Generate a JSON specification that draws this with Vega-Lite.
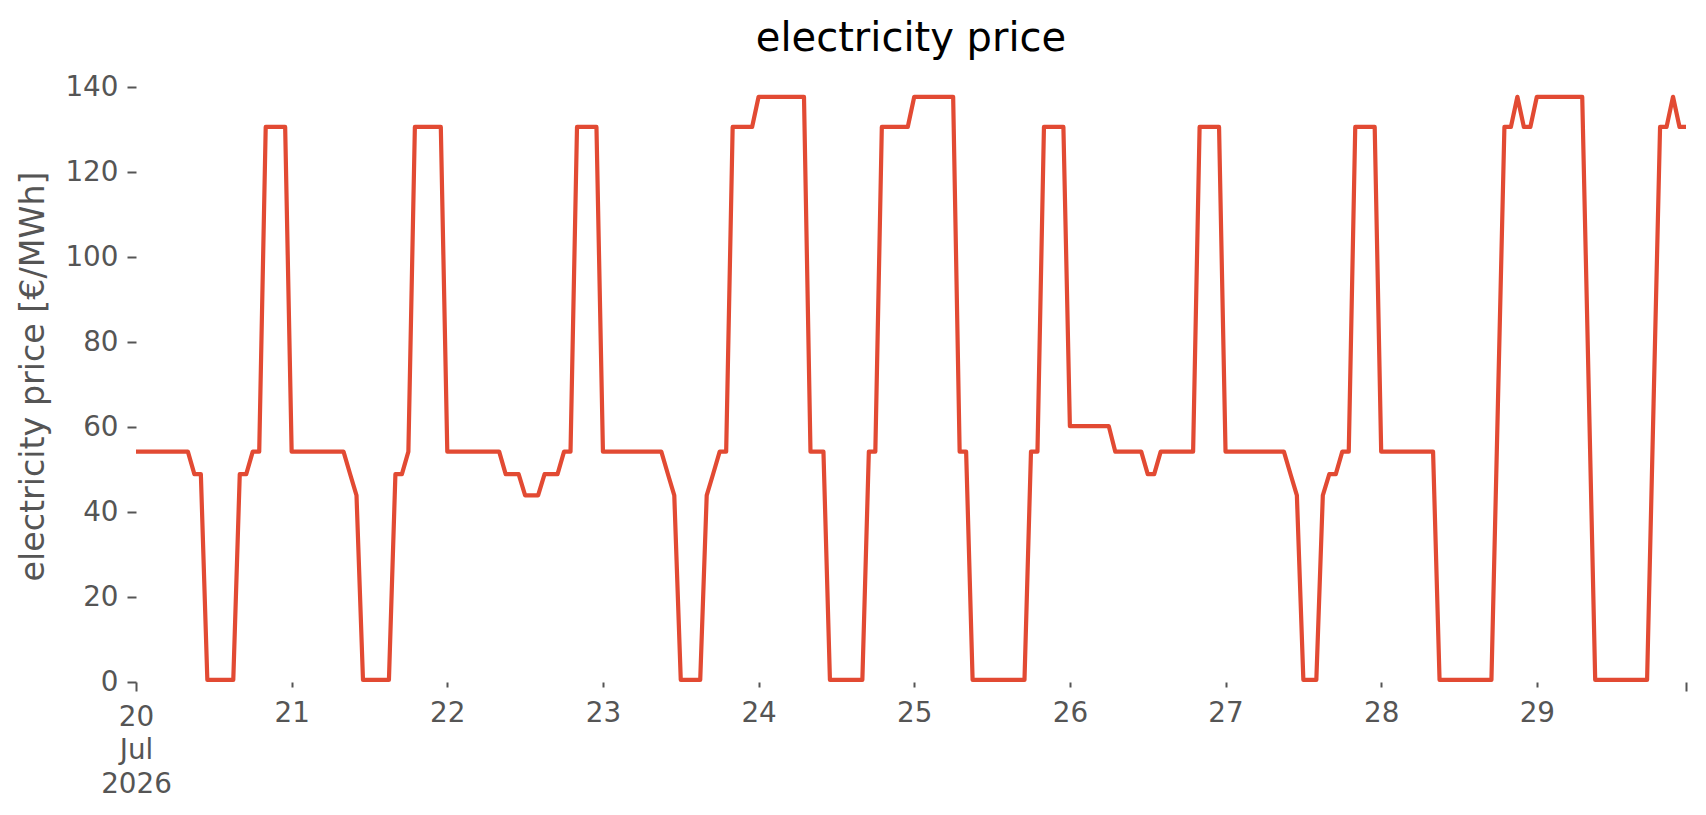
{
  "$schema": "https://vega.github.io/schema/vega-lite/v6.json",
  "autosize": {"type": "none"},
  "padding": {"left": 136, "top": 70, "right": 20, "bottom": 133},
  "width": 1550,
  "height": 612,
  "background": "white",
  "title": {"text": "electricity price", "font": "DejaVu Sans", "fontSize": 40, "fontWeight": "normal", "color": "#000000", "anchor": "middle", "offset": 11},
  "data": {"values": [
    {"t":"2026-07-20T00:00","p":54.2},{"t":"2026-07-20T01:00","p":54.2},{"t":"2026-07-20T02:00","p":54.2},{"t":"2026-07-20T03:00","p":54.2},{"t":"2026-07-20T04:00","p":54.2},{"t":"2026-07-20T05:00","p":54.2},{"t":"2026-07-20T06:00","p":54.2},{"t":"2026-07-20T07:00","p":54.2},{"t":"2026-07-20T08:00","p":54.2},{"t":"2026-07-20T09:00","p":48.9},{"t":"2026-07-20T10:00","p":48.9},{"t":"2026-07-20T11:00","p":0.5},{"t":"2026-07-20T12:00","p":0.5},{"t":"2026-07-20T13:00","p":0.5},{"t":"2026-07-20T14:00","p":0.5},{"t":"2026-07-20T15:00","p":0.5},{"t":"2026-07-20T16:00","p":48.9},{"t":"2026-07-20T17:00","p":48.9},{"t":"2026-07-20T18:00","p":54.2},{"t":"2026-07-20T19:00","p":54.2},{"t":"2026-07-20T20:00","p":130.6},{"t":"2026-07-20T21:00","p":130.6},{"t":"2026-07-20T22:00","p":130.6},{"t":"2026-07-20T23:00","p":130.6},
    {"t":"2026-07-21T00:00","p":54.2},{"t":"2026-07-21T01:00","p":54.2},{"t":"2026-07-21T02:00","p":54.2},{"t":"2026-07-21T03:00","p":54.2},{"t":"2026-07-21T04:00","p":54.2},{"t":"2026-07-21T05:00","p":54.2},{"t":"2026-07-21T06:00","p":54.2},{"t":"2026-07-21T07:00","p":54.2},{"t":"2026-07-21T08:00","p":54.2},{"t":"2026-07-21T09:00","p":49.0},{"t":"2026-07-21T10:00","p":43.9},{"t":"2026-07-21T11:00","p":0.5},{"t":"2026-07-21T12:00","p":0.5},{"t":"2026-07-21T13:00","p":0.5},{"t":"2026-07-21T14:00","p":0.5},{"t":"2026-07-21T15:00","p":0.5},{"t":"2026-07-21T16:00","p":48.9},{"t":"2026-07-21T17:00","p":48.9},{"t":"2026-07-21T18:00","p":54.2},{"t":"2026-07-21T19:00","p":130.6},{"t":"2026-07-21T20:00","p":130.6},{"t":"2026-07-21T21:00","p":130.6},{"t":"2026-07-21T22:00","p":130.6},{"t":"2026-07-21T23:00","p":130.6},
    {"t":"2026-07-22T00:00","p":54.2},{"t":"2026-07-22T01:00","p":54.2},{"t":"2026-07-22T02:00","p":54.2},{"t":"2026-07-22T03:00","p":54.2},{"t":"2026-07-22T04:00","p":54.2},{"t":"2026-07-22T05:00","p":54.2},{"t":"2026-07-22T06:00","p":54.2},{"t":"2026-07-22T07:00","p":54.2},{"t":"2026-07-22T08:00","p":54.2},{"t":"2026-07-22T09:00","p":48.9},{"t":"2026-07-22T10:00","p":48.9},{"t":"2026-07-22T11:00","p":48.9},{"t":"2026-07-22T12:00","p":43.9},{"t":"2026-07-22T13:00","p":43.9},{"t":"2026-07-22T14:00","p":43.9},{"t":"2026-07-22T15:00","p":48.9},{"t":"2026-07-22T16:00","p":48.9},{"t":"2026-07-22T17:00","p":48.9},{"t":"2026-07-22T18:00","p":54.2},{"t":"2026-07-22T19:00","p":54.2},{"t":"2026-07-22T20:00","p":130.6},{"t":"2026-07-22T21:00","p":130.6},{"t":"2026-07-22T22:00","p":130.6},{"t":"2026-07-22T23:00","p":130.6},
    {"t":"2026-07-23T00:00","p":54.2},{"t":"2026-07-23T01:00","p":54.2},{"t":"2026-07-23T02:00","p":54.2},{"t":"2026-07-23T03:00","p":54.2},{"t":"2026-07-23T04:00","p":54.2},{"t":"2026-07-23T05:00","p":54.2},{"t":"2026-07-23T06:00","p":54.2},{"t":"2026-07-23T07:00","p":54.2},{"t":"2026-07-23T08:00","p":54.2},{"t":"2026-07-23T09:00","p":54.2},{"t":"2026-07-23T10:00","p":49.0},{"t":"2026-07-23T11:00","p":43.9},{"t":"2026-07-23T12:00","p":0.5},{"t":"2026-07-23T13:00","p":0.5},{"t":"2026-07-23T14:00","p":0.5},{"t":"2026-07-23T15:00","p":0.5},{"t":"2026-07-23T16:00","p":43.9},{"t":"2026-07-23T17:00","p":49.0},{"t":"2026-07-23T18:00","p":54.2},{"t":"2026-07-23T19:00","p":54.2},{"t":"2026-07-23T20:00","p":130.6},{"t":"2026-07-23T21:00","p":130.6},{"t":"2026-07-23T22:00","p":130.6},{"t":"2026-07-23T23:00","p":130.6},
    {"t":"2026-07-24T00:00","p":137.7},{"t":"2026-07-24T01:00","p":137.7},{"t":"2026-07-24T02:00","p":137.7},{"t":"2026-07-24T03:00","p":137.7},{"t":"2026-07-24T04:00","p":137.7},{"t":"2026-07-24T05:00","p":137.7},{"t":"2026-07-24T06:00","p":137.7},{"t":"2026-07-24T07:00","p":137.7},{"t":"2026-07-24T08:00","p":54.2},{"t":"2026-07-24T09:00","p":54.2},{"t":"2026-07-24T10:00","p":54.2},{"t":"2026-07-24T11:00","p":0.5},{"t":"2026-07-24T12:00","p":0.5},{"t":"2026-07-24T13:00","p":0.5},{"t":"2026-07-24T14:00","p":0.5},{"t":"2026-07-24T15:00","p":0.5},{"t":"2026-07-24T16:00","p":0.5},{"t":"2026-07-24T17:00","p":54.2},{"t":"2026-07-24T18:00","p":54.2},{"t":"2026-07-24T19:00","p":130.6},{"t":"2026-07-24T20:00","p":130.6},{"t":"2026-07-24T21:00","p":130.6},{"t":"2026-07-24T22:00","p":130.6},{"t":"2026-07-24T23:00","p":130.6},
    {"t":"2026-07-25T00:00","p":137.7},{"t":"2026-07-25T01:00","p":137.7},{"t":"2026-07-25T02:00","p":137.7},{"t":"2026-07-25T03:00","p":137.7},{"t":"2026-07-25T04:00","p":137.7},{"t":"2026-07-25T05:00","p":137.7},{"t":"2026-07-25T06:00","p":137.7},{"t":"2026-07-25T07:00","p":54.2},{"t":"2026-07-25T08:00","p":54.2},{"t":"2026-07-25T09:00","p":0.5},{"t":"2026-07-25T10:00","p":0.5},{"t":"2026-07-25T11:00","p":0.5},{"t":"2026-07-25T12:00","p":0.5},{"t":"2026-07-25T13:00","p":0.5},{"t":"2026-07-25T14:00","p":0.5},{"t":"2026-07-25T15:00","p":0.5},{"t":"2026-07-25T16:00","p":0.5},{"t":"2026-07-25T17:00","p":0.5},{"t":"2026-07-25T18:00","p":54.2},{"t":"2026-07-25T19:00","p":54.2},{"t":"2026-07-25T20:00","p":130.6},{"t":"2026-07-25T21:00","p":130.6},{"t":"2026-07-25T22:00","p":130.6},{"t":"2026-07-25T23:00","p":130.6},
    {"t":"2026-07-26T00:00","p":60.2},{"t":"2026-07-26T01:00","p":60.2},{"t":"2026-07-26T02:00","p":60.2},{"t":"2026-07-26T03:00","p":60.2},{"t":"2026-07-26T04:00","p":60.2},{"t":"2026-07-26T05:00","p":60.2},{"t":"2026-07-26T06:00","p":60.2},{"t":"2026-07-26T07:00","p":54.2},{"t":"2026-07-26T08:00","p":54.2},{"t":"2026-07-26T09:00","p":54.2},{"t":"2026-07-26T10:00","p":54.2},{"t":"2026-07-26T11:00","p":54.2},{"t":"2026-07-26T12:00","p":48.9},{"t":"2026-07-26T13:00","p":48.9},{"t":"2026-07-26T14:00","p":54.2},{"t":"2026-07-26T15:00","p":54.2},{"t":"2026-07-26T16:00","p":54.2},{"t":"2026-07-26T17:00","p":54.2},{"t":"2026-07-26T18:00","p":54.2},{"t":"2026-07-26T19:00","p":54.2},{"t":"2026-07-26T20:00","p":130.6},{"t":"2026-07-26T21:00","p":130.6},{"t":"2026-07-26T22:00","p":130.6},{"t":"2026-07-26T23:00","p":130.6},
    {"t":"2026-07-27T00:00","p":54.2},{"t":"2026-07-27T01:00","p":54.2},{"t":"2026-07-27T02:00","p":54.2},{"t":"2026-07-27T03:00","p":54.2},{"t":"2026-07-27T04:00","p":54.2},{"t":"2026-07-27T05:00","p":54.2},{"t":"2026-07-27T06:00","p":54.2},{"t":"2026-07-27T07:00","p":54.2},{"t":"2026-07-27T08:00","p":54.2},{"t":"2026-07-27T09:00","p":54.2},{"t":"2026-07-27T10:00","p":49.0},{"t":"2026-07-27T11:00","p":43.9},{"t":"2026-07-27T12:00","p":0.5},{"t":"2026-07-27T13:00","p":0.5},{"t":"2026-07-27T14:00","p":0.5},{"t":"2026-07-27T15:00","p":43.9},{"t":"2026-07-27T16:00","p":48.9},{"t":"2026-07-27T17:00","p":48.9},{"t":"2026-07-27T18:00","p":54.2},{"t":"2026-07-27T19:00","p":54.2},{"t":"2026-07-27T20:00","p":130.6},{"t":"2026-07-27T21:00","p":130.6},{"t":"2026-07-27T22:00","p":130.6},{"t":"2026-07-27T23:00","p":130.6},
    {"t":"2026-07-28T00:00","p":54.2},{"t":"2026-07-28T01:00","p":54.2},{"t":"2026-07-28T02:00","p":54.2},{"t":"2026-07-28T03:00","p":54.2},{"t":"2026-07-28T04:00","p":54.2},{"t":"2026-07-28T05:00","p":54.2},{"t":"2026-07-28T06:00","p":54.2},{"t":"2026-07-28T07:00","p":54.2},{"t":"2026-07-28T08:00","p":54.2},{"t":"2026-07-28T09:00","p":0.5},{"t":"2026-07-28T10:00","p":0.5},{"t":"2026-07-28T11:00","p":0.5},{"t":"2026-07-28T12:00","p":0.5},{"t":"2026-07-28T13:00","p":0.5},{"t":"2026-07-28T14:00","p":0.5},{"t":"2026-07-28T15:00","p":0.5},{"t":"2026-07-28T16:00","p":0.5},{"t":"2026-07-28T17:00","p":0.5},{"t":"2026-07-28T18:00","p":65.5},{"t":"2026-07-28T19:00","p":130.6},{"t":"2026-07-28T20:00","p":130.6},{"t":"2026-07-28T21:00","p":137.7},{"t":"2026-07-28T22:00","p":130.6},{"t":"2026-07-28T23:00","p":130.6},
    {"t":"2026-07-29T00:00","p":137.7},{"t":"2026-07-29T01:00","p":137.7},{"t":"2026-07-29T02:00","p":137.7},{"t":"2026-07-29T03:00","p":137.7},{"t":"2026-07-29T04:00","p":137.7},{"t":"2026-07-29T05:00","p":137.7},{"t":"2026-07-29T06:00","p":137.7},{"t":"2026-07-29T07:00","p":137.7},{"t":"2026-07-29T08:00","p":69.1},{"t":"2026-07-29T09:00","p":0.5},{"t":"2026-07-29T10:00","p":0.5},{"t":"2026-07-29T11:00","p":0.5},{"t":"2026-07-29T12:00","p":0.5},{"t":"2026-07-29T13:00","p":0.5},{"t":"2026-07-29T14:00","p":0.5},{"t":"2026-07-29T15:00","p":0.5},{"t":"2026-07-29T16:00","p":0.5},{"t":"2026-07-29T17:00","p":0.5},{"t":"2026-07-29T18:00","p":65.5},{"t":"2026-07-29T19:00","p":130.6},{"t":"2026-07-29T20:00","p":130.6},{"t":"2026-07-29T21:00","p":137.7},{"t":"2026-07-29T22:00","p":130.6},{"t":"2026-07-29T23:00","p":130.6}
  ]},
  "mark": {"type": "line", "color": "#E24A33", "strokeWidth": 4.2, "strokeJoin": "round", "clip": false},
  "encoding": {
    "x": {
      "field": "t",
      "type": "temporal",
      "scale": {"domain": [{"year": 2026, "month": 7, "date": 20, "hours": 0}, {"year": 2026, "month": 7, "date": 29, "hours": 23}], "nice": false},
      "axis": {
        "title": null,
        "grid": false,
        "domain": false,
        "values": [
          {"year": 2026, "month": 7, "date": 20}, {"year": 2026, "month": 7, "date": 21}, {"year": 2026, "month": 7, "date": 22},
          {"year": 2026, "month": 7, "date": 23}, {"year": 2026, "month": 7, "date": 24}, {"year": 2026, "month": 7, "date": 25},
          {"year": 2026, "month": 7, "date": 26}, {"year": 2026, "month": 7, "date": 27}, {"year": 2026, "month": 7, "date": 28},
          {"year": 2026, "month": 7, "date": 29}, {"year": 2026, "month": 7, "date": 29, "hours": 23}
        ],
        "labelExpr": "date(datum.value) == 20 ? ['20', 'Jul', '2026'] : (hours(datum.value) == 23 ? '' : timeFormat(datum.value, '%d'))",
        "labelFont": "DejaVu Sans",
        "labelFontSize": 27.8,
        "labelColor": "#555555",
        "labelLineHeight": 33.5,
        "labelPadding": 12,
        "labelOverlap": false,
        "labelBound": false,
        "labelFlush": false,
        "tickColor": "#555555",
        "tickWidth": 2,
        "tickSize": {"condition": {"test": "date(datum.value) == 20 || hours(datum.value) == 23", "value": 9}, "value": 5}
      }
    },
    "y": {
      "field": "p",
      "type": "quantitative",
      "scale": {"domain": [0, 144], "nice": false},
      "axis": {
        "title": "electricity price [€/MWh]",
        "titleFont": "DejaVu Sans",
        "titleFontSize": 33.3,
        "titleFontWeight": "normal",
        "titleColor": "#555555",
        "titlePadding": 14,
        "values": [0, 20, 40, 60, 80, 100, 120, 140],
        "grid": false,
        "domain": false,
        "labelFont": "DejaVu Sans",
        "labelFontSize": 27.8,
        "labelColor": "#555555",
        "labelPadding": 9,
        "tickColor": "#555555",
        "tickWidth": 2,
        "tickSize": 9
      }
    }
  },
  "config": {"view": {"stroke": null}, "font": "DejaVu Sans"}
}
